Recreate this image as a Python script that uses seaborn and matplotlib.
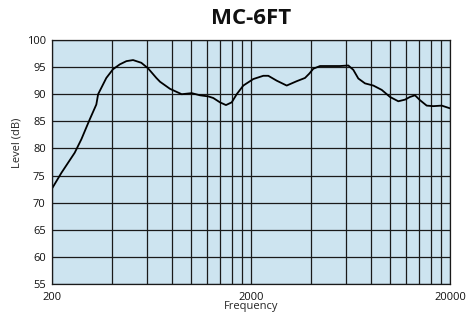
import numpy as np
import pandas as pd
import matplotlib
matplotlib.use("Agg")
import matplotlib.pyplot as plt
import seaborn as sns
from matplotlib.ticker import NullFormatter

# === 1. Response curve ===
freq = [200, 223, 260, 281, 309, 334, 341, 361, 375, 405, 438, 473, 511, 562,
        607, 669, 698, 783, 897, 1007, 1109, 1220, 1293, 1397, 1497, 1600,
        1695, 1830, 2054, 2306, 2443, 2693, 3023, 3393, 3736, 3926, 4112,
        4444, 4989, 5602, 6166, 6533, 6923, 7481, 8236, 9076, 9988, 10998,
        11883, 12590, 13342, 14134, 15272, 16486, 18170, 19612, 20000]
level = [72.6, 75.5, 79.2, 81.7, 85.3, 88.1, 90.0, 91.8, 93.0, 94.6, 95.5,
         96.1, 96.3, 95.8, 94.8, 93.0, 92.3, 91.0, 90.0, 90.2, 89.8, 89.6,
         89.3, 88.5, 88.0, 88.5, 90.0, 91.6, 92.8, 93.4, 93.4, 92.5, 91.6,
         92.4, 93.0, 93.8, 94.7, 95.2, 95.2, 95.2, 95.3, 94.5, 92.9, 92.0,
         91.6, 90.8, 89.5, 88.7, 89.0, 89.5, 89.8, 88.9, 87.9, 87.8, 87.9,
         87.5, 87.4]

x_ticks = [200, 2000, 20000]
x_labels = ["200", "2000", "20000"]
x_grid = [400, 600, 800, 1000, 1200, 1400, 1600, 1800,
          4000, 6000, 8000, 10000, 12000, 14000, 16000, 18000]
y_ticks = [55, 60, 65, 70, 75, 80, 85, 90, 95, 100]

df = pd.DataFrame({"Frequency": freq, "Level": level})

# === 2. Style ===
sns.set_style("white")
plt.rcParams["font.family"] = ["Open Sans", "DejaVu Sans"]

fig = plt.figure(figsize=(4.67, 3.16), dpi=100)
ax = fig.add_axes([52 / 467, 1 - 284 / 316, 398 / 467, 244 / 316])
ax.set_facecolor("#cde4f0")

sns.lineplot(data=df, x="Frequency", y="Level", ax=ax, color="black",
             linewidth=1.3, sort=False, estimator=None)

ax.set_xscale("log")
ax.set_xlim(200, 20000)
ax.set_ylim(55, 100)
ax.set_xticks(x_ticks)
ax.set_xticklabels(x_labels)
ax.set_xticks(x_grid, minor=True)
ax.xaxis.set_minor_formatter(NullFormatter())
ax.set_yticks(y_ticks)

ax.grid(True, which="both", color="#1a1a1a", linewidth=0.9)
ax.set_axisbelow(True)
ax.tick_params(axis="x", which="minor", length=0)
ax.tick_params(axis="both", which="major", length=3, width=0.9,
               labelsize=8, pad=1.5, colors="#111111")
ax.tick_params(axis="x", which="major", pad=2.5)

for s in ax.spines.values():
    s.set_color("#1a1a1a")
    s.set_linewidth(0.9)

ax.set_xlabel("Frequency", fontsize=8, labelpad=-1)
ax.set_ylabel("Level (dB)", fontsize=8)
ax.yaxis.set_label_coords(-0.075, 0.578)

fig.text(251 / 467, 1 - 18 / 316, "MC-6FT", ha="center", va="center",
         fontsize=16, fontweight="bold", color="#111111")

fig.savefig("out.png", dpi=100)
